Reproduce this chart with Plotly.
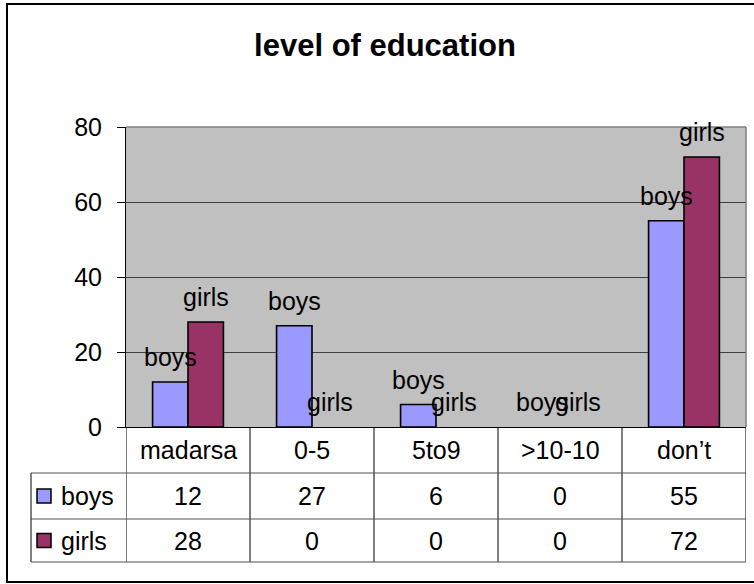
import plotly.graph_objects as go

# ---- data ----
categories = ["madarsa", "0-5", "5to9", ">10-10", "don\u2019t"]
series_names = ["boys", "girls"]
boys = [12, 27, 6, 0, 55]
girls = [28, 0, 0, 0, 72]
y_ticks = [0, 20, 40, 60, 80]
title_text = "level of education"

series_values = [boys, girls]
colors = ["#9999FF", "#993366"]

W, H = 754, 584
L, R, T, B = 126, 8, 127, 157
PW, PH = W - L - R, H - T - B
FONT = "Liberation Sans, Arial, sans-serif"
FS = 25


def px_x(px):
    return (px - L) / PW


def px_y(py):
    return (H - B - py) / PH


bargap = 1.5 / 3.5
bar_w = (1 - bargap) / len(series_names)
xs = list(range(len(categories)))

fig = go.Figure()
for name, vals, col in zip(series_names, series_values, colors):
    fig.add_trace(go.Bar(
        x=xs, y=vals, name=name,
        marker=dict(color=col,
                    line=dict(color="black",
                              width=[1.6 if v else 0 for v in vals])),
        showlegend=False, hoverinfo="x+y",
    ))

annotations = []
shapes = []

# series-name labels above each bar
for k, (name, vals) in enumerate(zip(series_names, series_values)):
    off = (k - (len(series_names) - 1) / 2) * bar_w
    for j, v in enumerate(vals):
        annotations.append(dict(
            x=xs[j] + off, y=v, xref="x", yref="y", text=name,
            showarrow=False, yanchor="bottom", yshift=9,
            font=dict(family=FONT, size=FS, color="black"),
        ))

# data table
row_top = H - B          # 427
row_h = [46, 46, 43]
row_edges = [row_top]
for h in row_h:
    row_edges.append(row_edges[-1] + h)
row_centers = [(row_edges[i] + row_edges[i + 1]) / 2 for i in range(3)]
legend_left = 31

for j, cat in enumerate(categories):
    annotations.append(dict(
        x=xs[j], y=px_y(row_centers[0]), xref="x", yref="paper", text=cat,
        showarrow=False, yanchor="middle",
        font=dict(family=FONT, size=FS, color="black"),
    ))
for k, (name, vals, col) in enumerate(zip(series_names, series_values, colors)):
    cy = row_centers[k + 1]
    for j, v in enumerate(vals):
        annotations.append(dict(
            x=xs[j], y=px_y(cy), xref="x", yref="paper", text=str(v),
            showarrow=False, yanchor="middle",
            font=dict(family=FONT, size=FS, color="black"),
        ))
    annotations.append(dict(
        x=px_x(59), y=px_y(cy), xref="paper", yref="paper", text=name,
        showarrow=False, xanchor="left", yanchor="middle",
        font=dict(family=FONT, size=FS, color="black"),
    ))
    shapes.append(dict(
        type="rect", xref="paper", yref="paper",
        x0=px_x(37), x1=px_x(51), y0=px_y(cy - 7), y1=px_y(cy + 7),
        fillcolor=col, line=dict(color="black", width=1.5),
    ))

# table vertical lines (category boundaries)
for j in range(len(categories) + 1):
    shapes.append(dict(
        type="line", xref="x", yref="paper",
        x0=j - 0.5, x1=j - 0.5, y0=px_y(row_edges[0]), y1=px_y(row_edges[-1]),
        line=dict(color="black", width=1),
    ))
shapes.append(dict(
    type="line", xref="paper", yref="paper",
    x0=px_x(legend_left), x1=px_x(legend_left),
    y0=px_y(row_edges[1]), y1=px_y(row_edges[-1]),
    line=dict(color="black", width=1),
))
# table horizontal lines
for e in row_edges[1:]:
    shapes.append(dict(
        type="line", xref="paper", yref="paper",
        x0=px_x(legend_left), x1=1, y0=px_y(e), y1=px_y(e),
        line=dict(color="#505050", width=1),
    ))

# plot area top/right border (grey)
shapes.append(dict(type="line", xref="paper", yref="paper", x0=0, x1=1, y0=1, y1=1,
                   line=dict(color="#808080", width=1.5)))
shapes.append(dict(type="line", xref="paper", yref="paper", x0=1, x1=1, y0=0, y1=1,
                   line=dict(color="#808080", width=1.5)))

# chart outer border
shapes.append(dict(
    type="rect", xref="paper", yref="paper",
    x0=px_x(7), x1=px_x(W + 10), y0=px_y(582), y1=px_y(4),
    line=dict(color="black", width=2), fillcolor="rgba(0,0,0,0)",
))

fig.update_layout(
    width=W, height=H,
    margin=dict(l=L, r=R, t=T, b=B, pad=0),
    paper_bgcolor="white", plot_bgcolor="#C0C0C0",
    barmode="group", bargap=bargap, bargroupgap=0,
    title=dict(text="<b>" + title_text + "</b>", x=385 / W, xanchor="center",
               y=1 - 45 / H, yanchor="middle", xref="container", yref="container",
               font=dict(family=FONT, size=31, color="black")),
    xaxis=dict(range=[-0.5, len(categories) - 0.5], showticklabels=False,
               showgrid=False, zeroline=False, showline=True,
               linecolor="black", linewidth=1, ticks="", fixedrange=True),
    yaxis=dict(range=[0, 80], tickvals=y_ticks, ticks="outside", ticklen=8,
               tickcolor="black", tickwidth=1, showline=True, linecolor="black",
               linewidth=1, showgrid=True, gridcolor="#404040", gridwidth=1,
               zeroline=False, ticklabelstandoff=10,
               tickfont=dict(family=FONT, size=FS, color="black")),
    annotations=annotations,
    shapes=shapes,
    font=dict(family=FONT, size=FS, color="black"),
)

fig.write_html(
    "out.html",
    config={"displayModeBar": False},
    post_script="document.body.style.margin='0';document.body.style.overflow='hidden';",
)
